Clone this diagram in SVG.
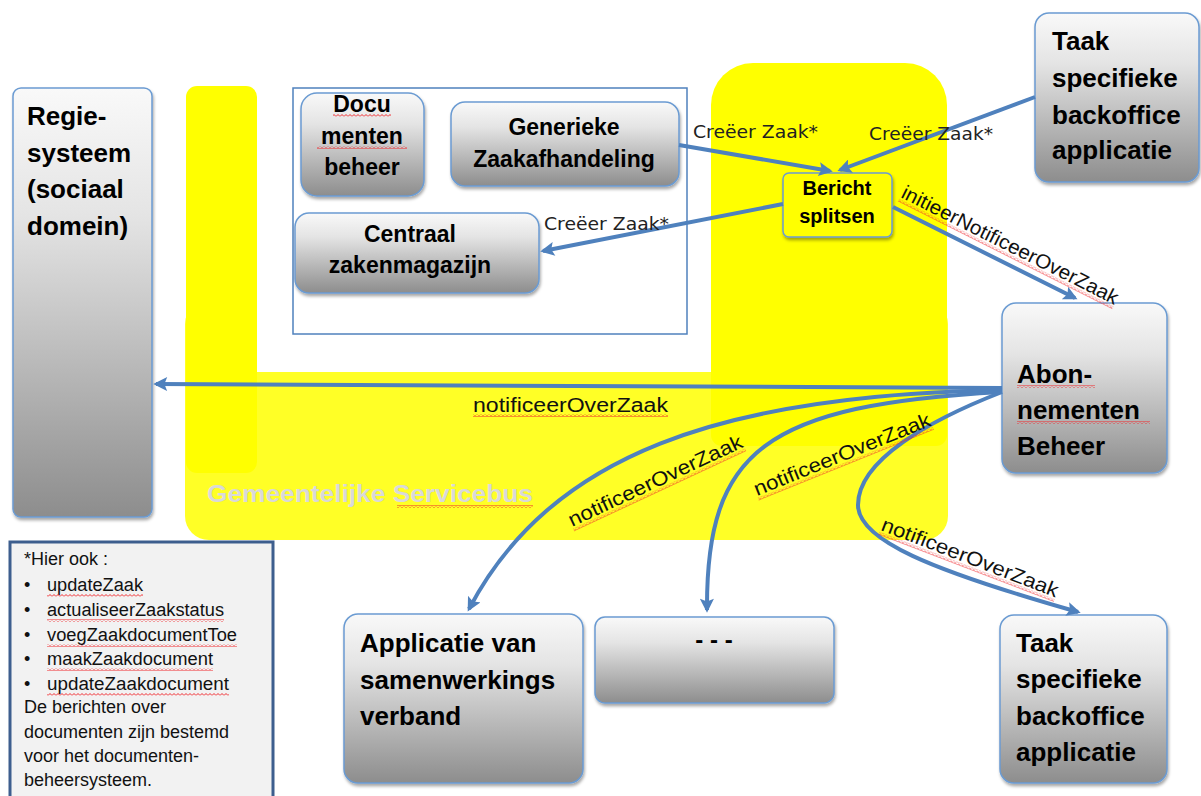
<svg xmlns="http://www.w3.org/2000/svg" width="1201" height="796" viewBox="0 0 1201 796">
<defs>
  <linearGradient id="g" x1="0" y1="0" x2="0" y2="1">
    <stop offset="0" stop-color="#f9f9f9"/>
    <stop offset="0.3" stop-color="#e4e4e4"/>
    <stop offset="1" stop-color="#8d8d8d"/>
  </linearGradient>
  <filter id="sh" x="-10%" y="-10%" width="130%" height="130%">
    <feDropShadow dx="1" dy="2.5" stdDeviation="1.8" flood-color="#000" flood-opacity="0.35"/>
  </filter>
  <pattern id="sq" width="4" height="3" patternUnits="userSpaceOnUse">
    <path d="M0,2.5 L2,0.5 L4,2.5" fill="none" stroke="#f0282c" stroke-width="1"/>
  </pattern>
  <marker id="ah" viewBox="0 0 10 10" refX="8" refY="5" markerWidth="15" markerHeight="14" markerUnits="userSpaceOnUse" orient="auto">
    <path d="M0,0 L10,5 L0,10 L2,5 z" fill="#4f81bd"/>
  </marker>
</defs>
<style>
  .box { fill: url(#g); stroke: #6b9bd2; stroke-width: 1.5; filter: url(#sh); }
  .big { font-family: "Liberation Sans", Arial, sans-serif; font-weight: bold; font-size: 26px; fill: #000; }
  .mid { font-family: "Liberation Sans", Arial, sans-serif; font-weight: bold; font-size: 23px; fill: #000; text-anchor: middle; }
  .lbl { font-family: "DejaVu Sans", Verdana, sans-serif; font-size: 18px; fill: #222; }
  .nl { font-family: "Liberation Sans", Arial, sans-serif; font-size: 20px; fill: #111; }
  .note { font-family: "Liberation Sans", Arial, sans-serif; font-size: 18px; fill: #111; }
  .conn { fill: none; stroke: #4f81bd; stroke-width: 4; marker-end: url(#ah); }
  .sq { fill: url(#sq); }
</style>

<!-- Gemeentelijke Servicebus background -->
<g id="servicebus">
  <rect x="185" y="300" width="763" height="240" rx="24" fill="#ffff26"/>
  <rect x="186" y="86" width="71" height="387" rx="11" fill="#ffff00"/>
  <rect x="711" y="63" width="236" height="383" rx="42" fill="#ffff00"/>
  <rect x="711" y="300" width="236" height="146" rx="11" fill="#ffff00"/>
  <rect x="257" y="300" width="454" height="72" fill="#ffffff"/>
  <text x="207" y="502" font-family="Liberation Sans, Arial, sans-serif" font-weight="bold" font-size="24" fill="#d9d9d9" textLength="326" lengthAdjust="spacingAndGlyphs">Gemeentelijke Servicebus</text>
  <rect class="sq" x="397" y="505" width="136" height="3"/>
</g>

<!-- container box -->
<g id="container">
  <rect x="293" y="88" width="394" height="246" fill="#ffffff" stroke="#4f81bd" stroke-width="1.5"/>
</g>

<g id="regiesysteem">
  <rect class="box" x="13" y="88" width="139" height="429" rx="8"/>
  <text class="big" x="27" y="125">Regie-</text>
  <text class="big" x="27" y="162">systeem</text>
  <text class="big" x="27" y="198">(sociaal</text>
  <text class="big" x="27" y="235">domein)</text>
</g>

<g id="documentenbeheer">
  <rect class="box" x="301" y="93" width="123" height="103" rx="16"/>
  <text class="mid" x="362" y="112">Docu</text>
  <text class="mid" x="362" y="144">menten</text>
  <text class="mid" x="362" y="175">beheer</text>
  <rect class="sq" x="333" y="114" width="58" height="3"/>
  <rect class="sq" x="317" y="146" width="90" height="3"/>
</g>

<g id="generieke">
  <rect class="box" x="451" y="102" width="228" height="84" rx="14"/>
  <text class="mid" x="564" y="135">Generieke</text>
  <text class="mid" x="564" y="167">Zaakafhandeling</text>
</g>

<g id="centraal">
  <rect class="box" x="295" y="213" width="244" height="80" rx="14"/>
  <text class="mid" x="410" y="242">Centraal</text>
  <text class="mid" x="410" y="273">zakenmagazijn</text>
</g>

<g id="bericht">
  <rect x="783" y="173" width="109" height="64" rx="6" fill="#ffff00" stroke="#6b9bd2" stroke-width="1.5" filter="url(#sh)"/>
  <text x="837" y="195" font-family="Liberation Sans, Arial, sans-serif" font-weight="bold" font-size="20" text-anchor="middle">Bericht</text>
  <text x="837" y="223" font-family="Liberation Sans, Arial, sans-serif" font-weight="bold" font-size="20" text-anchor="middle">splitsen</text>
</g>

<g id="taak-top">
  <rect class="box" x="1035" y="13" width="164" height="169" rx="14"/>
  <text class="big" x="1052" y="50">Taak</text>
  <text class="big" x="1052" y="87">specifieke</text>
  <text class="big" x="1052" y="124">backoffice</text>
  <text class="big" x="1052" y="159">applicatie</text>
</g>

<g id="abonnementen">
  <rect class="box" x="1002" y="303" width="165" height="170" rx="14"/>
  <text class="big" x="1017" y="383">Abon-</text>
  <text class="big" x="1017" y="419">nementen</text>
  <text class="big" x="1017" y="455">Beheer</text>
  <rect class="sq" x="1017" y="385" width="78" height="3"/>
  <rect class="sq" x="1017" y="421" width="133" height="3"/>
</g>

<g id="applicatie">
  <rect class="box" x="344" y="614" width="239" height="169" rx="14"/>
  <text class="big" x="360" y="652">Applicatie van</text>
  <text class="big" x="360" y="689">samenwerkings</text>
  <text class="big" x="360" y="725">verband</text>
</g>

<g id="overig">
  <rect class="box" x="595" y="617" width="239" height="86" rx="10"/>
  <text x="714" y="648" font-family="Liberation Sans, Arial, sans-serif" font-weight="bold" font-size="24" text-anchor="middle">- - -</text>
</g>

<g id="taak-bottom">
  <rect class="box" x="1000" y="615" width="167" height="168" rx="14"/>
  <text class="big" x="1016" y="652">Taak</text>
  <text class="big" x="1016" y="688">specifieke</text>
  <text class="big" x="1016" y="725">backoffice</text>
  <text class="big" x="1016" y="761">applicatie</text>
</g>

<g id="notes">
  <rect x="10" y="542" width="263" height="270" fill="#f2f2f2" stroke="#3d5e8e" stroke-width="3"/>
  <text class="note" x="24" y="565">*Hier ook :</text>
  <text class="note" x="24" y="591">•</text>
  <text class="note" x="47" y="591" textLength="96" lengthAdjust="spacingAndGlyphs">updateZaak</text>
  <text class="note" x="24" y="616">•</text>
  <text class="note" x="47" y="616" textLength="177" lengthAdjust="spacingAndGlyphs">actualiseerZaakstatus</text>
  <text class="note" x="24" y="641">•</text>
  <text class="note" x="47" y="641" textLength="190" lengthAdjust="spacingAndGlyphs">voegZaakdocumentToe</text>
  <text class="note" x="24" y="665">•</text>
  <text class="note" x="47" y="665" textLength="166" lengthAdjust="spacingAndGlyphs">maakZaakdocument</text>
  <text class="note" x="24" y="690">•</text>
  <text class="note" x="47" y="690" textLength="182" lengthAdjust="spacingAndGlyphs">updateZaakdocument</text>
  <text class="note" x="24" y="713">De berichten over</text>
  <text class="note" x="24" y="738">documenten zijn bestemd</text>
  <text class="note" x="24" y="762">voor het documenten-</text>
  <text class="note" x="24" y="786">beheersysteem.</text>
  <rect class="sq" x="47" y="594" width="96" height="3"/>
  <rect class="sq" x="47" y="619" width="177" height="3"/>
  <rect class="sq" x="47" y="644" width="190" height="3"/>
  <rect class="sq" x="47" y="668" width="166" height="3"/>
  <rect class="sq" x="47" y="693" width="182" height="3"/>
</g>

<g id="connectors">
  <path class="conn" d="M679,145 L830,171"/>
  <path class="conn" d="M1035,97 L840,170"/>
  <path class="conn" d="M783,204 L543,251"/>
  <path class="conn" d="M893,207 L1075,298"/>
  <path class="conn" d="M1002,388 L156,384"/>
  <path class="conn" d="M1002,390 C720,395 550,455 469,609"/>
  <path class="conn" d="M1002,392 C765,405 706,450 707,610"/>
  <path class="conn" d="M1002,392 C930,420 858,460 858,505 C858,540 930,570 1078,612"/>

  <text class="lbl" x="693" y="138" textLength="125" lengthAdjust="spacingAndGlyphs">Creëer Zaak*</text>
  <text class="lbl" x="869" y="140" textLength="124" lengthAdjust="spacingAndGlyphs">Creëer Zaak*</text>
  <text class="lbl" x="544" y="230" textLength="125" lengthAdjust="spacingAndGlyphs">Creëer Zaak*</text>

  <g transform="translate(900,197) rotate(26.7)">
    <text class="nl" x="0" y="0" textLength="240" lengthAdjust="spacingAndGlyphs">initieerNotificeerOverZaak</text>
    <rect class="sq" x="0" y="2" width="240" height="3"/>
  </g>
  <g transform="translate(473,412)">
    <text class="nl" x="0" y="0" textLength="195" lengthAdjust="spacingAndGlyphs">notificeerOverZaak</text>
    <rect class="sq" x="0" y="2" width="195" height="3"/>
  </g>
  <g transform="translate(572,527) rotate(-25)">
    <text class="nl" x="0" y="0" textLength="190" lengthAdjust="spacingAndGlyphs">notificeerOverZaak</text>
    <rect class="sq" x="0" y="2" width="190" height="3"/>
  </g>
  <g transform="translate(757,496) rotate(-22)">
    <text class="nl" x="0" y="0" textLength="189" lengthAdjust="spacingAndGlyphs">notificeerOverZaak</text>
    <rect class="sq" x="0" y="2" width="189" height="3"/>
  </g>
  <g transform="translate(880,530) rotate(21)">
    <text class="nl" x="0" y="0" textLength="188" lengthAdjust="spacingAndGlyphs">notificeerOverZaak</text>
    <rect class="sq" x="0" y="2" width="188" height="3"/>
  </g>
</g>
</svg>
